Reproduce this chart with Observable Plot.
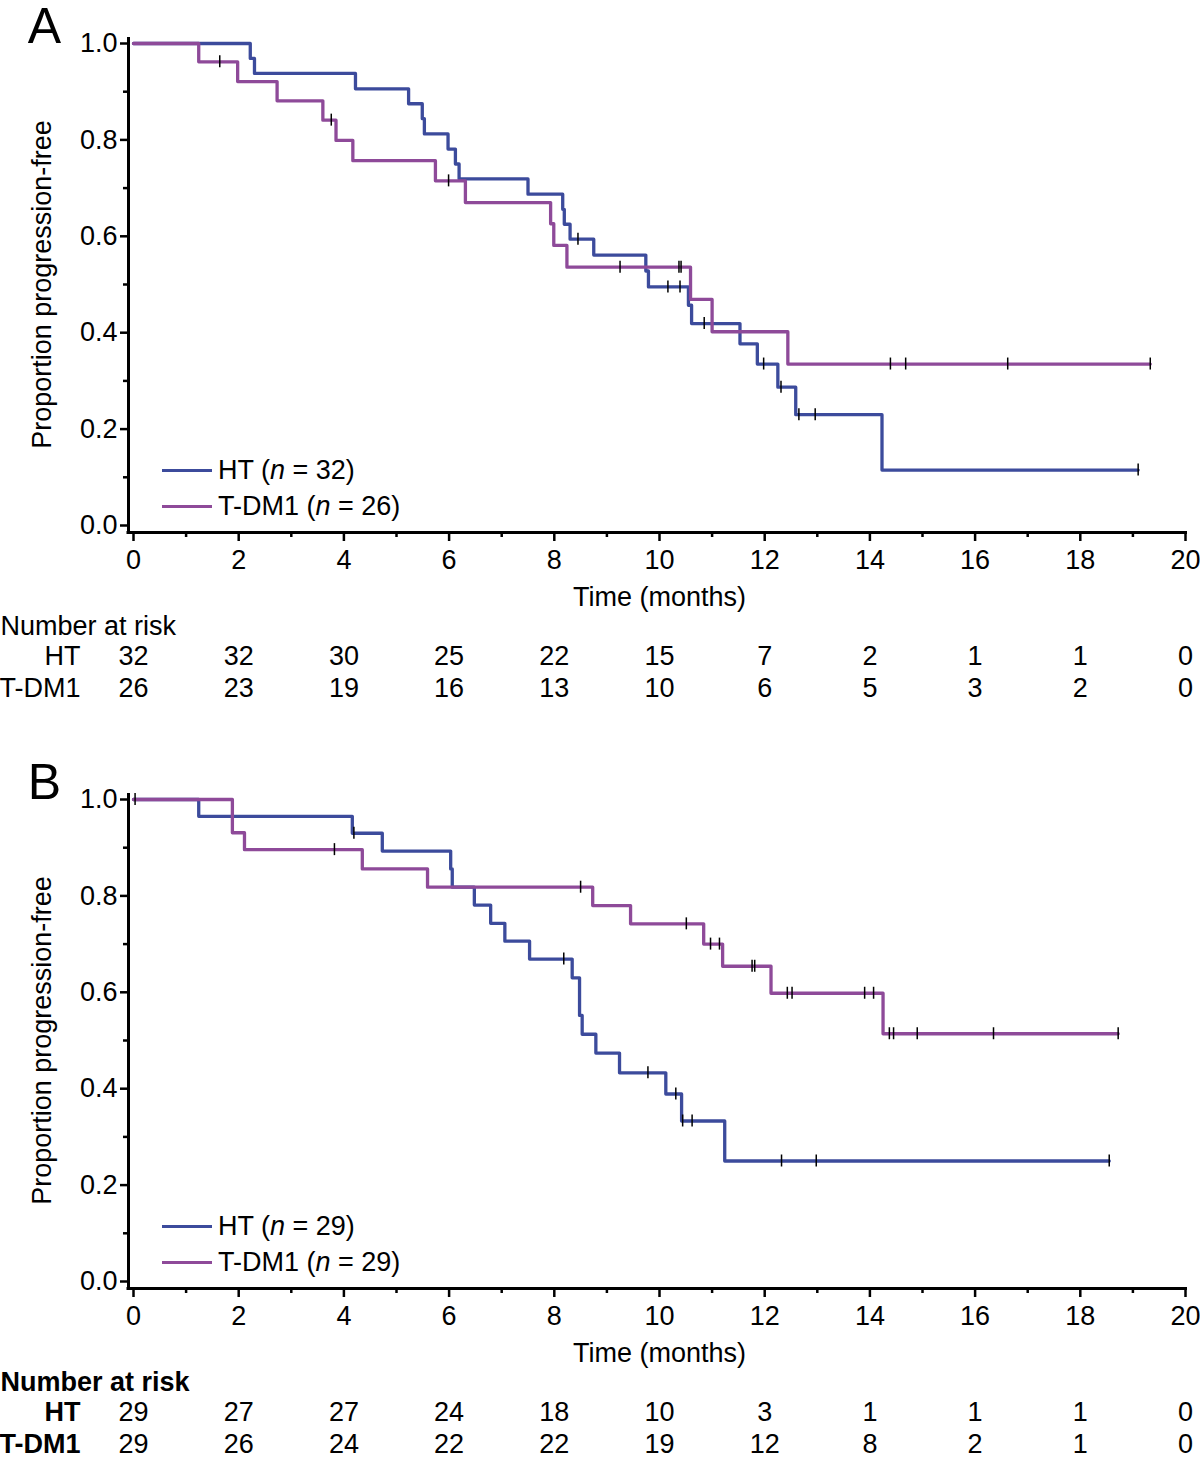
<!DOCTYPE html>
<html><head><meta charset="utf-8">
<script src="https://cdn.jsdelivr.net/npm/d3@7"></script>
<script src="https://cdn.jsdelivr.net/npm/@observablehq/plot@0.6"></script>
<style>
body{margin:0;background:#fff;font-family:"Liberation Sans",Arial,Helvetica,sans-serif;}
#root{width:1200px;}
.panel{position:relative;width:1200px;}
.panel svg{display:block;overflow:visible;}
.legend{position:absolute;left:162px;top:452px;font-size:27px;color:#000;}
.legend .row{display:flex;align-items:center;height:36px;white-space:nowrap;}
.legend .sw{width:50px;height:0;border-top:3px solid;margin-right:6px;}
</style></head><body><div id="root"></div>
<script>
// ---------- shared axes / table ----------
const xMajor = [0, 2, 4, 6, 8, 10, 12, 14, 16, 18, 20];
const xMinor = [1, 3, 5, 7, 9, 11, 13, 15, 17, 19];
const yMajor = [0, 0.2, 0.4, 0.6, 0.8, 1.0];
const yMinor = [0.1, 0.3, 0.5, 0.7, 0.9];
const riskTimes = [0, 2, 4, 6, 8, 10, 12, 14, 16, 18, 20];
const groups = ["HT", "T-DM1"];
const colors = ["#3c4b9c", "#8e4a99"];

// ---------- Panel A ----------
const htA_times = [2.22, 2.30, 4.22, 5.23, 5.49, 5.53, 5.98, 6.12, 6.19, 7.50, 8.16, 8.19, 8.30, 8.75, 9.74, 9.79, 10.55, 10.61, 11.53, 11.86, 12.25, 12.59, 14.23];
const htA_surv  = [0.969, 0.938, 0.906, 0.875, 0.844, 0.8125, 0.781, 0.75, 0.719, 0.6875, 0.656, 0.625, 0.594, 0.561, 0.528, 0.495, 0.457, 0.419, 0.377, 0.335, 0.287, 0.230, 0.115];
const htA_end = 19.1;
const htA_censor = [8.45, 10.16, 10.39, 10.85, 11.98, 12.31, 12.65, 12.96, 19.1];

const tdA_times = [1.24, 1.98, 2.73, 3.60, 3.85, 4.17, 5.74, 6.31, 7.93, 7.99, 8.24, 10.59, 11.00, 12.44];
const tdA_surv  = [0.962, 0.921, 0.881, 0.841, 0.799, 0.757, 0.715, 0.670, 0.626, 0.581, 0.536, 0.469, 0.402, 0.335];
const tdA_end = 19.33;
const tdA_censor = [1.64, 3.76, 5.99, 9.25, 10.37, 10.41, 14.39, 14.68, 16.62, 19.33];

const riskA_HT = [32, 32, 30, 25, 22, 15, 7, 2, 1, 1, 0];
const riskA_TD = [26, 23, 19, 16, 13, 10, 6, 5, 3, 2, 0];
const nA = [32, 26];

// ---------- Panel B ----------
const htB_times = [1.24, 4.16, 4.73, 6.03, 6.06, 6.48, 6.79, 7.06, 7.53, 8.34, 8.48, 8.53, 8.79, 9.24, 10.12, 10.42, 11.24];
const htB_surv  = [0.965, 0.930, 0.893, 0.856, 0.818, 0.781, 0.743, 0.706, 0.669, 0.630, 0.552, 0.513, 0.474, 0.433, 0.389, 0.333, 0.250];
const htB_end = 18.55;
const htB_censor = [0.03, 4.19, 8.18, 9.78, 10.31, 10.44, 10.62, 12.32, 12.98, 18.55];

const tdB_times = [1.88, 2.11, 4.35, 5.59, 8.73, 9.45, 10.84, 11.20, 12.12, 14.25];
const tdB_surv  = [0.931, 0.896, 0.856, 0.818, 0.780, 0.742, 0.700, 0.654, 0.598, 0.514];
const tdB_end = 18.72;
const tdB_censor = [3.82, 8.50, 10.51, 10.97, 11.14, 11.76, 11.81, 12.43, 12.52, 13.90, 14.07, 14.37, 14.45, 14.90, 16.35, 18.72];

const riskB_HT = [29, 27, 27, 24, 18, 10, 3, 1, 1, 1, 0];
const riskB_TD = [29, 26, 24, 22, 22, 19, 12, 8, 2, 1, 0];
const nB = [29, 29];

// ---------- helpers ----------
function stepData(times, surv, end) {
  const d = [{t: 0, s: 1}];
  times.forEach((t, i) => d.push({t, s: surv[i]}));
  d.push({t: end, s: surv[surv.length - 1]});
  return d;
}
function censorData(cens, times, surv) {
  return cens.map(t => {
    let s = 1;
    times.forEach((et, i) => { if (et <= t) s = surv[i]; });
    return {t, s};
  });
}

function panel(cfg) {
  const FONT = '"Liberation Sans", Arial, Helvetica, sans-serif';
  const FS = 27;
  const bold = cfg.bold ? "bold" : "normal";
  const ht = stepData(cfg.ht[0], cfg.ht[1], cfg.ht[2]);
  const td = stepData(cfg.td[0], cfg.td[1], cfg.td[2]);
  const htC = censorData(cfg.ht[3], cfg.ht[0], cfg.ht[1]);
  const tdC = censorData(cfg.td[3], cfg.td[0], cfg.td[1]);
  const plot = Plot.plot({
    width: 1200,
    height: cfg.height,
    marginTop: 43,
    marginLeft: 133,
    marginRight: 15,
    marginBottom: cfg.height - 525,
    x: {domain: [0, 20]},
    y: {domain: [0, 1]},
    style: {fontFamily: FONT, fontSize: FS + "px", color: "#000", background: "#fff", overflow: "visible"},
    marks: [
      Plot.axisY({ticks: yMajor, tickFormat: d3.format(".1f"), dx: -5, tickSize: 8, tickPadding: 3, strokeWidth: 2.5, label: null, fontSize: FS}),
      Plot.axisY({ticks: yMinor, tickSize: 5, text: null, dx: -5, strokeWidth: 2.5, label: null}),
      Plot.axisX({ticks: xMajor, tickSize: 9, tickPadding: 8, dy: 7, strokeWidth: 2.5, label: null, fontSize: FS}),
      Plot.axisX({ticks: xMinor, tickSize: 5, text: null, dy: 7, strokeWidth: 2.5, label: null}),
      Plot.ruleX([0], {dx: -5, insetTop: -6, insetBottom: -8.5, strokeWidth: 3}),
      Plot.ruleY([0], {dy: 7, insetLeft: -6.5, insetRight: -2, strokeWidth: 3}),
      Plot.line(ht, {x: "t", y: "s", curve: "step-after", stroke: colors[0], strokeWidth: 3.3}),
      Plot.line(td, {x: "t", y: "s", curve: "step-after", stroke: colors[1], strokeWidth: 3.3}),
      Plot.ruleX(htC, {x: "t", y1: "s", y2: "s", insetTop: -6, insetBottom: -6, stroke: "#000", strokeWidth: 1.5}),
      Plot.ruleX(tdC, {x: "t", y1: "s", y2: "s", insetTop: -6, insetBottom: -6, stroke: "#000", strokeWidth: 1.5}),
      Plot.text([cfg.letter], {frameAnchor: "top-left", dx: -89, dy: -17, fontSize: 50, textAnchor: "middle", lineAnchor: "middle"}),
      Plot.text(["Proportion progression-free"], {frameAnchor: "left", rotate: -90, dx: -91, fontSize: FS, textAnchor: "middle", lineAnchor: "middle"}),
      Plot.text(["Time (months)"], {frameAnchor: "bottom", dy: 72, fontSize: FS, textAnchor: "middle", lineAnchor: "middle"}),
      Plot.text(["Number at risk"], {frameAnchor: "bottom-left", dx: -133, dy: 101, fontSize: FS, fontWeight: bold, textAnchor: "start", lineAnchor: "middle"}),
      Plot.text([groups[0]], {frameAnchor: "bottom-left", dx: -53, dy: 131, fontSize: FS, fontWeight: bold, textAnchor: "end", lineAnchor: "middle"}),
      Plot.text([groups[1]], {frameAnchor: "bottom-left", dx: -53, dy: 163, fontSize: FS, fontWeight: bold, textAnchor: "end", lineAnchor: "middle"}),
      Plot.text(riskTimes, {x: d => d, text: (d, i) => String(cfg.risk[0][i]), frameAnchor: "bottom", dy: 131, fontSize: FS, textAnchor: "middle", lineAnchor: "middle"}),
      Plot.text(riskTimes, {x: d => d, text: (d, i) => String(cfg.risk[1][i]), frameAnchor: "bottom", dy: 163, fontSize: FS, textAnchor: "middle", lineAnchor: "middle"})
    ]
  });
  const div = document.createElement("div");
  div.className = "panel";
  div.appendChild(plot);
  const leg = document.createElement("div");
  leg.className = "legend";
  groups.forEach((g, i) => {
    const row = document.createElement("div");
    row.className = "row";
    const sw = document.createElement("span");
    sw.className = "sw";
    sw.style.borderTopColor = colors[i];
    const tx = document.createElement("span");
    tx.innerHTML = g + " (<i>n</i> = " + cfg.n[i] + ")";
    row.appendChild(sw);
    row.appendChild(tx);
    leg.appendChild(row);
  });
  div.appendChild(leg);
  return div;
}

const root = document.getElementById("root");
root.appendChild(panel({
  letter: "A", height: 756, bold: false,
  ht: [htA_times, htA_surv, htA_end, htA_censor],
  td: [tdA_times, tdA_surv, tdA_end, tdA_censor],
  risk: [riskA_HT, riskA_TD], n: nA
}));
root.appendChild(panel({
  letter: "B", height: 706, bold: true,
  ht: [htB_times, htB_surv, htB_end, htB_censor],
  td: [tdB_times, tdB_surv, tdB_end, tdB_censor],
  risk: [riskB_HT, riskB_TD], n: nB
}));
</script></body></html>
